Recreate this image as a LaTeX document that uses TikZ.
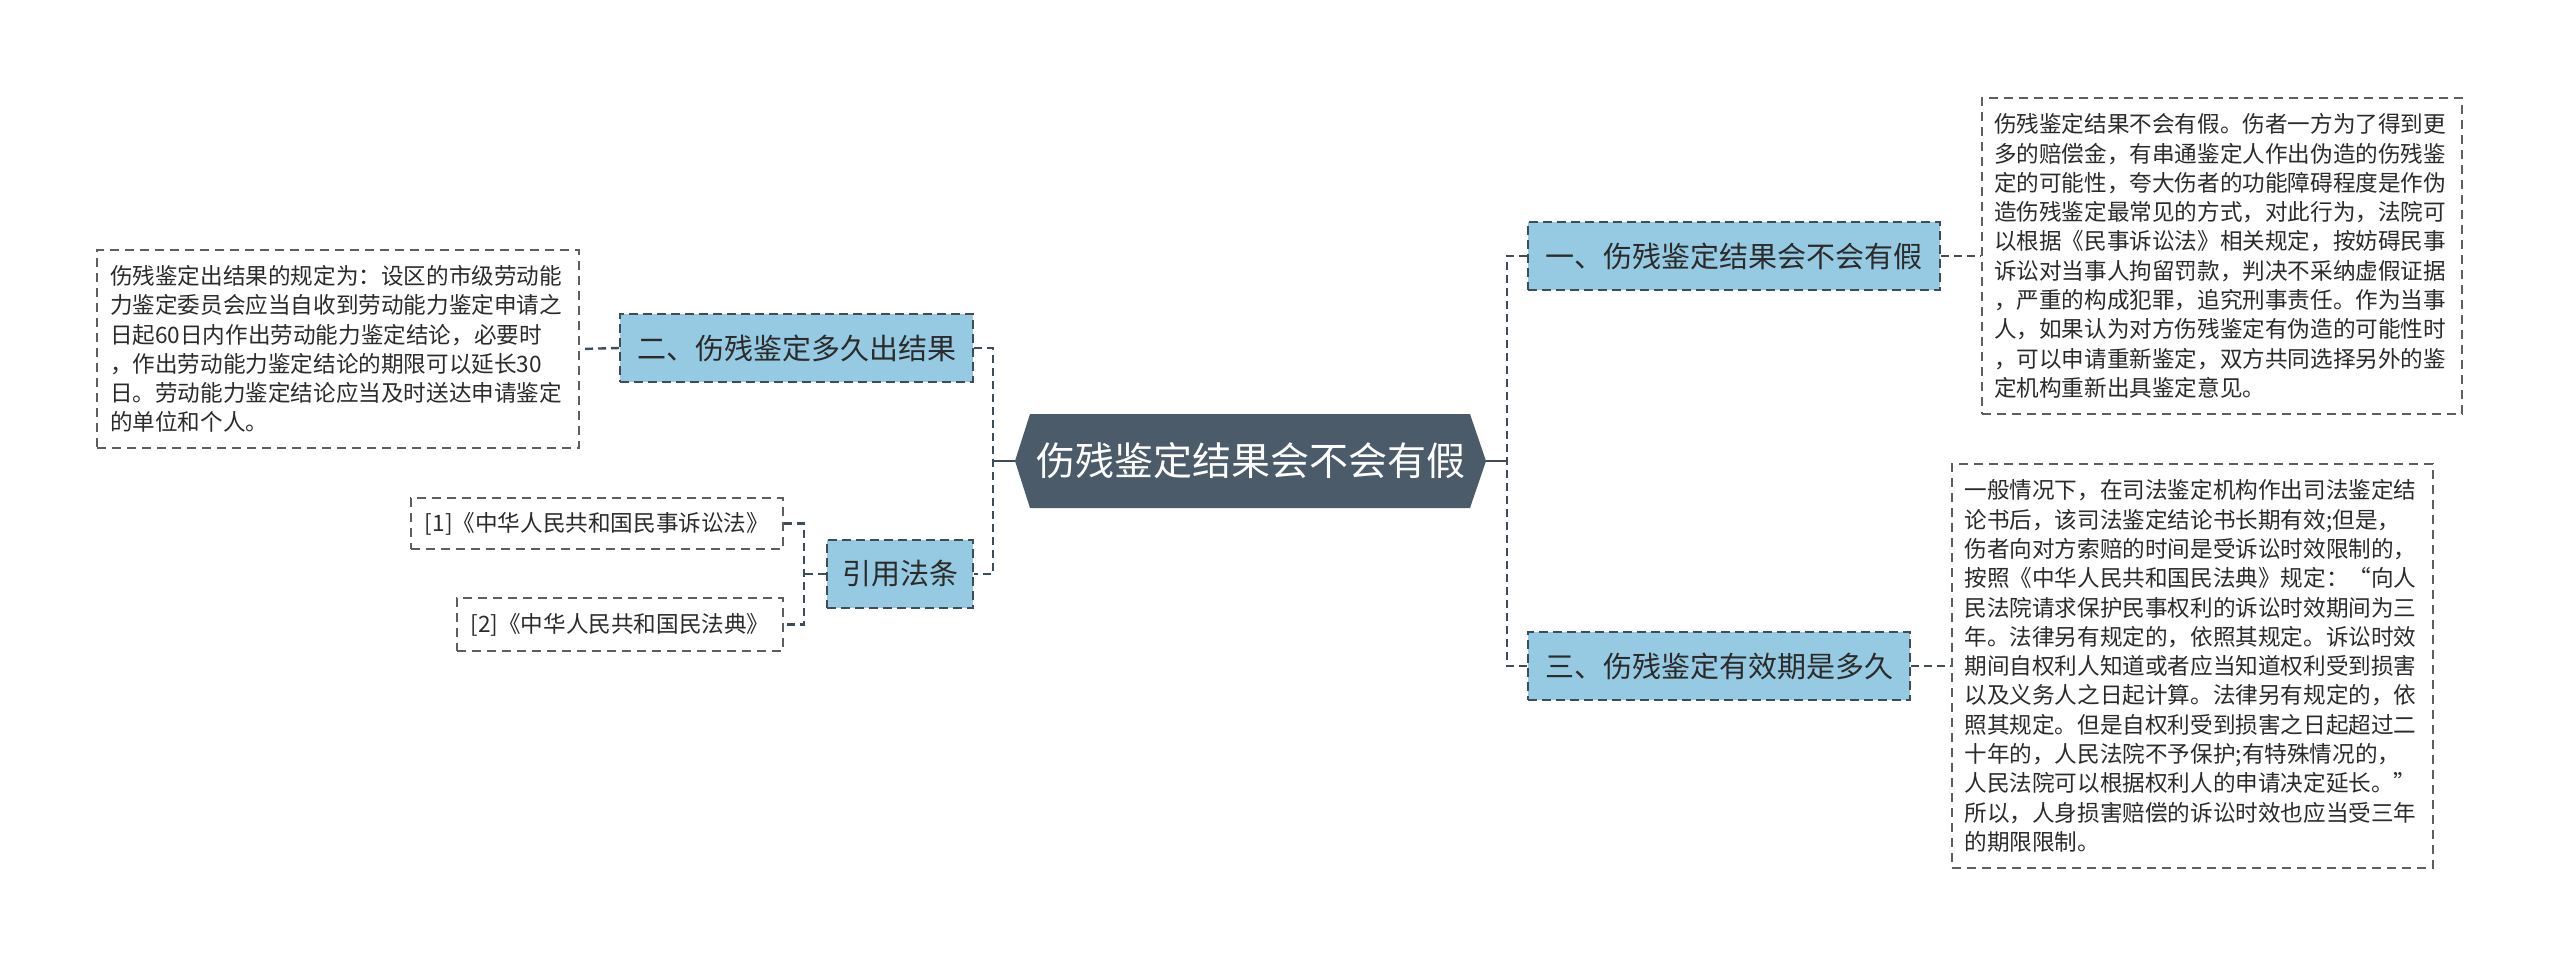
\documentclass[tikz,border=0pt]{standalone}
\usepackage{fontspec}
\setmainfont{Noto Sans CJK SC}
\definecolor{hexc}{HTML}{4B5B6A}
\definecolor{bluec}{HTML}{96CAE2}
\definecolor{connc}{HTML}{3E4D5A}
\definecolor{boxc}{HTML}{5E5E5E}
\definecolor{txtc}{HTML}{2B2B2B}
\tikzset{
  conn/.style={draw=connc, line width=2.4pt, dash pattern=on 8pt off 5pt},
  solidconn/.style={draw=connc, line width=2.4pt},
  bluebox/.style={draw=connc, fill=bluec, line width=2pt, dash pattern=on 9pt off 5pt,
    inner sep=0pt, text=txtc, font=\fontsize{29}{34}\selectfont},
  tbox/.style={draw=boxc, line width=2pt, dash pattern=on 9pt off 6pt, fill=white,
    inner sep=0pt, text=txtc, align=left, font=\fontsize{22.6}{29.3}\selectfont},
  refbox/.style={draw=boxc, line width=2pt, dash pattern=on 9pt off 6pt, fill=white,
    inner sep=0pt, text=txtc, font=\fontsize{22.6}{27}\selectfont},
  hexnode/.style={inner sep=0pt, text=white, font=\fontsize{39}{44}\selectfont,
    path picture={\fill[hexc] (path picture bounding box.west)
      -- ([xshift=15pt]path picture bounding box.north west)
      -- ([xshift=-16pt]path picture bounding box.north east)
      -- (path picture bounding box.east)
      -- ([xshift=-16pt]path picture bounding box.south east)
      -- ([xshift=15pt]path picture bounding box.south west) -- cycle;}}
}
\begin{document}
\begin{tikzpicture}[x=1pt,y=-1pt]
\useasboundingbox[fill=white] (0,0) rectangle (2560,967);

% central
\node[hexnode, minimum width=471pt, minimum height=94pt] (root) at (1250.5,461) {伤残鉴定结果会不会有假};

% branches
\node[bluebox, minimum width=353pt, minimum height=68pt] (n2) at (796.5,348) {二、伤残鉴定多久出结果};
\node[bluebox, minimum width=146pt, minimum height=68pt] (nref) at (900,574) {引用法条};
\node[bluebox, minimum width=412pt, minimum height=68pt] (n1) at (1734,256) {一、伤残鉴定结果会不会有假};
\node[bluebox, minimum width=382pt, minimum height=68pt] (n3) at (1719,666) {三、伤残鉴定有效期是多久};

% leaves
\node[tbox, minimum width=482pt, minimum height=198pt, text width=456pt] (lbox) at (338,349) {%
伤残鉴定出结果的规定为：设区的市级劳动能\\
力鉴定委员会应当自收到劳动能力鉴定申请之\\
日起60日内作出劳动能力鉴定结论，必要时\\
，作出劳动能力鉴定结论的期限可以延长30\\
日。劳动能力鉴定结论应当及时送达申请鉴定\\
的单位和个人。};

\node[refbox, minimum width=372pt, minimum height=51pt] (r1) at (597,523.5) {[1]《中华人民共和国民事诉讼法》};
\node[refbox, minimum width=326pt, minimum height=53pt] (r2) at (620,624.5) {[2]《中华人民共和国民法典》};

\node[tbox, minimum width=480pt, minimum height=316pt, text width=456pt] (tb1) at (2222,256) {%
伤残鉴定结果不会有假。伤者一方为了得到更\\
多的赔偿金，有串通鉴定人作出伪造的伤残鉴\\
定的可能性，夸大伤者的功能障碍程度是作伪\\
造伤残鉴定最常见的方式，对此行为，法院可\\
以根据《民事诉讼法》相关规定，按妨碍民事\\
诉讼对当事人拘留罚款，判决不采纳虚假证据\\
，严重的构成犯罪，追究刑事责任。作为当事\\
人，如果认为对方伤残鉴定有伪造的可能性时\\
，可以申请重新鉴定，双方共同选择另外的鉴\\
定机构重新出具鉴定意见。};

\node[tbox, minimum width=481pt, minimum height=404pt, text width=456pt] (tb3) at (2192.5,666) {%
一般情况下，在司法鉴定机构作出司法鉴定结\\
论书后，该司法鉴定结论书长期有效;但是，\\
伤者向对方索赔的时间是受诉讼时效限制的，\\
按照《中华人民共和国民法典》规定：“向人\\
民法院请求保护民事权利的诉讼时效期间为三\\
年。法律另有规定的，依照其规定。诉讼时效\\
期间自权利人知道或者应当知道权利受到损害\\
以及义务人之日起计算。法律另有规定的，依\\
照其规定。但是自权利受到损害之日起超过二\\
十年的，人民法院不予保护;有特殊情况的，\\
人民法院可以根据权利人的申请决定延长。”\\
所以，人身损害赔偿的诉讼时效也应当受三年\\
的期限限制。};

% junctions
\coordinate (jl) at (993,461);
\coordinate (jr) at (1507,461);
\coordinate (jref) at (804,574);

% connectors
\draw[solidconn] (root.west) -- (jl);
\draw[solidconn] (root.east) -- (jr);
\draw[conn] (n2.east) -| (jl) |- (nref.east);
\draw[conn] (n1.west) -| (jr) |- (n3.west);
\draw[conn] (nref.west) -- (jref);
\draw[conn] (r1.east) -| (jref) |- (r2.east);
\draw[conn] (n2.west) -- (lbox.east);
\draw[conn] (n1.east) -- (tb1.west);
\draw[conn] (n3.east) -- (tb3.west);
\end{tikzpicture}
\end{document}
